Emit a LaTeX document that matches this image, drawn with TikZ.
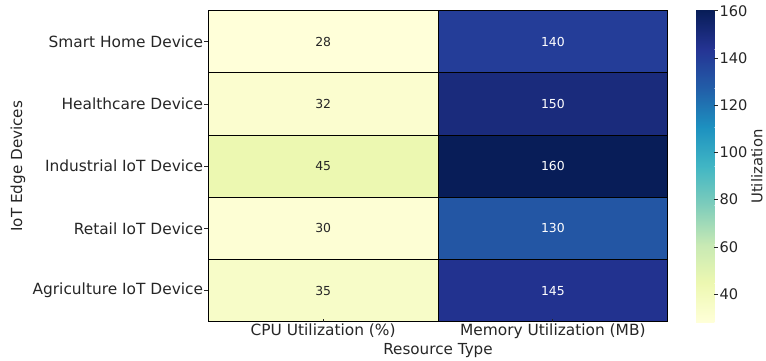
\documentclass[tikz,border=0pt]{standalone}
\usepackage{fontspec}
\setmainfont{DejaVu Sans}
% YlGnBu colour stops
\definecolor{yg0}{RGB}{255,255,217}
\definecolor{yg1}{RGB}{237,248,177}
\definecolor{yg2}{RGB}{199,233,180}
\definecolor{yg3}{RGB}{127,205,187}
\definecolor{yg4}{RGB}{65,182,196}
\definecolor{yg5}{RGB}{29,145,192}
\definecolor{yg6}{RGB}{34,94,168}
\definecolor{yg7}{RGB}{37,52,148}
\definecolor{yg8}{RGB}{8,29,88}
% cell colours
\definecolor{v28}{RGB}{255,255,217}
\definecolor{v30}{RGB}{253,254,212}
\definecolor{v32}{RGB}{251,253,207}
\definecolor{v35}{RGB}{247,252,200}
\definecolor{v45}{RGB}{236,248,177}
\definecolor{v130}{RGB}{35,86,164}
\definecolor{v140}{RGB}{36,61,152}
\definecolor{v145}{RGB}{34,50,143}
\definecolor{v150}{RGB}{26,43,124}
\definecolor{v160}{RGB}{8,29,88}
\definecolor{ink}{RGB}{38,38,38}
\begin{document}
\begin{tikzpicture}[x=1pt,y=-1pt,
  cell/.style={draw=black, line width=0.9pt, inner sep=0pt,
    minimum width=229.7pt, minimum height=62.2pt,
    font=\fontsize{12.4}{14}\selectfont},
  lightcell/.style={cell, text=ink},
  darkcell/.style={cell, text=white},
  ticklbl/.style={text=ink, font=\fontsize{15.4}{18}\selectfont, inner sep=0pt},
  cblbl/.style={text=ink, font=\fontsize{14.6}{17}\selectfont, inner sep=0pt},
  axlbl/.style={text=ink, font=\fontsize{15.2}{18}\selectfont, inner sep=0pt},
  tickmark/.style={draw=ink, line width=0.8pt}]
\useasboundingbox (0,0) rectangle (766,360);

% heatmap cells: row / label / cpu / mem
\foreach \r/\lab/\c/\m [count=\i] in {
  41.8/Smart Home Device/28/140,
  104.0/Healthcare Device/32/150,
  166.2/Industrial IoT Device/45/160,
  228.4/Retail IoT Device/30/130,
  290.6/Agriculture IoT Device/35/145}{
  \node[lightcell, fill=v\c] (cpu\i) at (323.15,\r) {\c};
  \node[darkcell, fill=v\m] (mem\i) at (552.85,\r) {\m};
  \draw[tickmark] (cpu\i.west) -- ++(-3.5,0);
  \node[ticklbl, anchor=east] (row\i) at (203.3,\r) {\lab};
}

% column ticks and labels
\draw[tickmark] (cpu5.south) -- ++(0,-3.5);
\draw[tickmark] (mem5.south) -- ++(0,-3.5);
\node[ticklbl] (colcpu) at (323.15,331) {CPU Utilization (\%)};
\node[ticklbl] (colmem) at (552.85,331) {Memory Utilization (MB)};
\node[axlbl] (xlab) at (438,351) {Resource Type};
\node[axlbl, rotate=90] (ylab) at (18,166.2) {IoT Edge Devices};

% colour bar (28 .. 160)
\foreach \k [evaluate=\k as \kn using int(\k+1),
             evaluate=\k as \yb using 322.5-\k*38.975,
             evaluate=\k as \yt using 322.5-(\k+1)*38.975-0.3] in {0,...,7}{
  \shade[bottom color=yg\k, top color=yg\kn] (696,\yb) rectangle (714.3,\yt);
}
\foreach \v in {40,60,...,160}{
  \pgfmathsetmacro{\yy}{322.5-(\v-28)/132*311.8}
  \draw[tickmark] (714.3,\yy) -- ++(3.5,0);
  \node[cblbl, anchor=west] (cb\v) at (719.3,\yy) {\v};
}
\node[axlbl, rotate=90, font=\fontsize{14.8}{17}\selectfont] (cblab) at (756.8,166.6) {Utilization};
\end{tikzpicture}
\end{document}
